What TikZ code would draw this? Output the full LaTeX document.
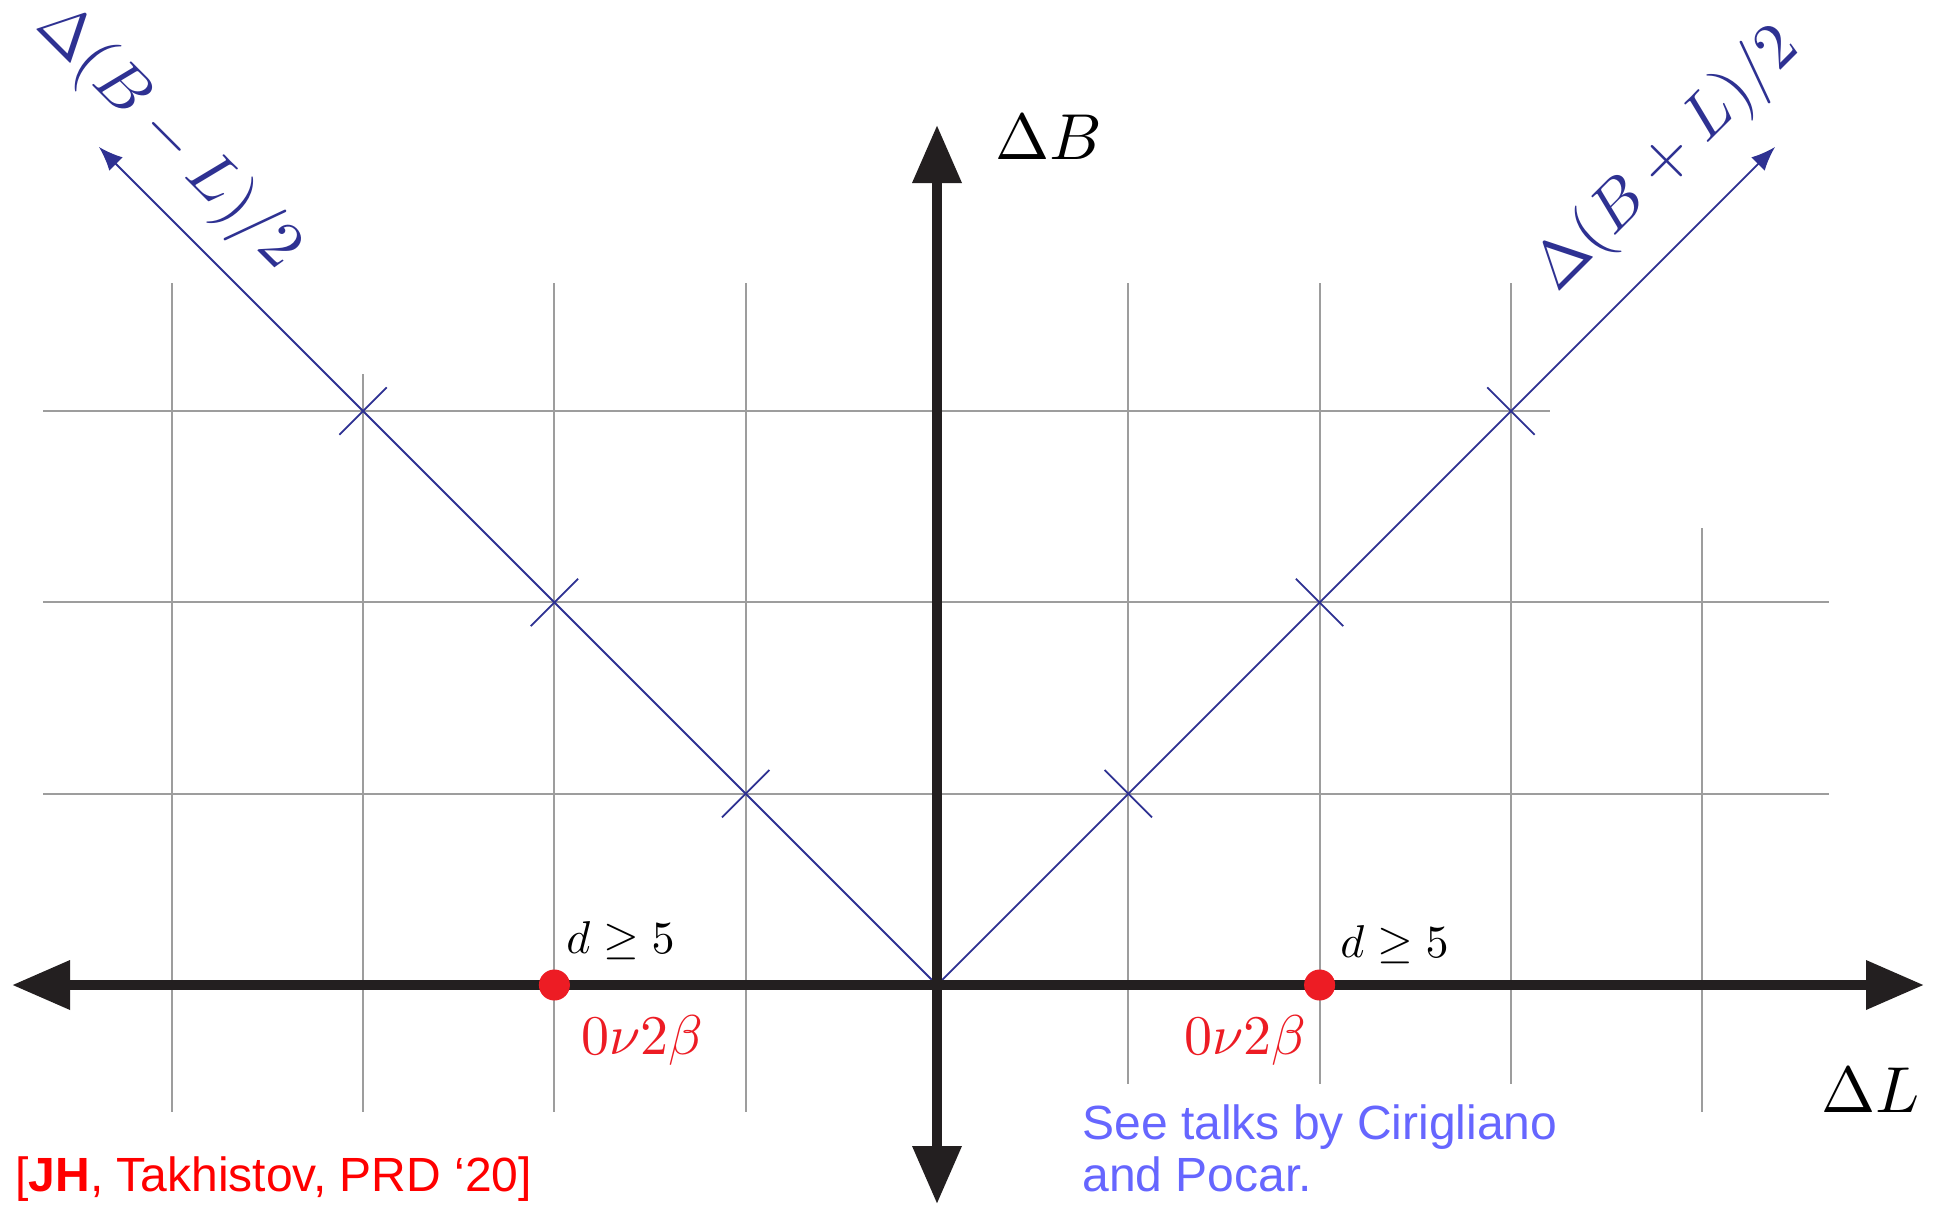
\RequirePackage{fix-cm}
\documentclass[tikz,border=0pt]{standalone}
\usepackage{graphicx}
\usepackage{fontspec}
\newfontfamily\arialf{Liberation Sans}
\usetikzlibrary{arrows.meta,calc}
\definecolor{gridgray}{HTML}{9D9D9D}
\definecolor{axisblack}{HTML}{231F20}
\definecolor{diagblue}{HTML}{2E3192}
\definecolor{dotred}{HTML}{ED1C24}
\definecolor{citered}{HTML}{FF0000}
\definecolor{talkblue}{HTML}{6666FF}
\begin{document}
\begin{tikzpicture}[x=0.5pt,y=-0.5pt,
  gridline/.style={gridgray, line width=1pt},
  axisline/.style={axisblack, line width=5pt, {Triangle[length=29pt,width=23.5pt]}-{Triangle[length=29pt,width=23.5pt]}},
  diagline/.style={diagblue, line width=0.9pt, -{Latex[length=12pt,width=9.5pt]}},
  crossmark/.style={diagblue, line width=0.9pt},
  lbl/.style={inner sep=0pt, anchor=base west},
  reddot/.style={circle, fill=dotred, inner sep=0pt, minimum size=15.5pt},
]
\useasboundingbox (0,0) rectangle (1936,1204);
\fill[white] (0,0) rectangle (1936,1204);

% grid
\foreach \x/\ya/\yb in {171.8/283/1112, 363.1/374/1112, 554.4/283/1112, 745.7/283/1112,
  1128.3/283/1084, 1319.6/283/1084, 1510.9/283/1084, 1702.2/528/1112}
  \draw[gridline] (\x,\ya) -- (\x,\yb);
\draw[gridline] (43,411) -- (1550,411);
\draw[gridline] (43,602.4) -- (1829,602.4);
\draw[gridline] (43,793.7) -- (1829,793.7);

% coordinates
\coordinate (O) at (937,985);
\coordinate (Lend) at (12,985);
\coordinate (Rend) at (1924,985);
\coordinate (Tend) at (937,125);
\coordinate (Bend) at (937,1204);
\coordinate (BLtip) at (99,147);
\coordinate (BRtip) at (1775,147);

% diagonals
\draw[diagline] (O) -- (BLtip);
\draw[diagline] (O) -- (BRtip);
\foreach \k in {1,2,3}{
  \draw[crossmark] ($(O)+(-191.3*\k,-191.3*\k)+(-23.7,23.7)$) -- ($(O)+(-191.3*\k,-191.3*\k)+(23.7,-23.7)$);
  \draw[crossmark] ($(O)+(191.3*\k,-191.3*\k)+(-23.7,-23.7)$) -- ($(O)+(191.3*\k,-191.3*\k)+(23.7,23.7)$);
}

% axes
\draw[axisline] (Lend) -- (Rend);
\draw[axisline] (Bend) -- (Tend);

% red dots
\node[reddot] (dotL) at (554.4,985) {};
\node[reddot] (dotR) at (1319.6,985) {};

% labels
\node[lbl] (dB) at (995,159) {\scalebox{3.25}{$\Delta B$}};
\node[lbl] (dL) at (1821,1112) {\scalebox{3.25}{$\Delta L$}};
\node[lbl, rotate=-45, text=diagblue] (bml) at (34,27) {\scalebox{3.25}{$\Delta(B-L)/2$}};
\node[lbl, rotate=45, text=diagblue] (bpl) at (1557,294) {\scalebox{3.25}{$\Delta(B+L)/2$}};
\node[lbl] (d5L) at (566,953) {\scalebox{2.3}{$d\geq 5$}};
\node[lbl] (d5R) at (1340,957) {\scalebox{2.3}{$d\geq 5$}};
\node[lbl, text=dotred] (nbbL) at (581,1054) {\scalebox{2.8}{$0\nu2\beta$}};
\node[lbl, text=dotred] (nbbR) at (1184,1054) {\scalebox{2.8}{$0\nu2\beta$}};
\node[lbl, text=citered] (cite) at (15,1191) {\arialf\fontsize{24}{28}\selectfont [\textbf{JH}, Takhistov, PRD ‘20]};
\node[lbl, text=talkblue] (talk1) at (1082,1139) {\arialf\fontsize{24}{28}\selectfont See talks by Cirigliano};
\node[lbl, text=talkblue] (talk2) at (1082,1191) {\arialf\fontsize{24}{28}\selectfont and Pocar.};
\end{tikzpicture}
\end{document}
